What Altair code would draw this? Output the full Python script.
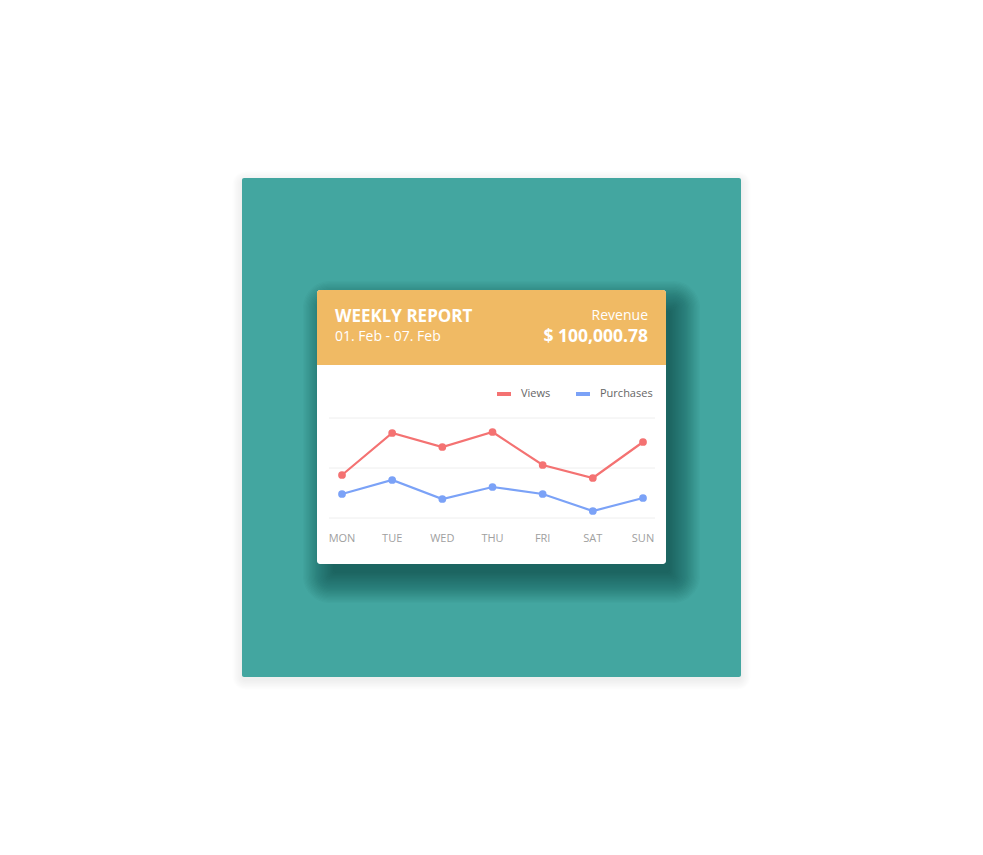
import altair as alt
import pandas as pd

# ---- data ----
days = ["MON", "TUE", "WED", "THU", "FRI", "SAT", "SUN"]
views = [43, 85, 71, 86, 53, 40, 76]
purchases = [24, 38, 19, 31, 24, 7, 20]
series_names = ["Views", "Purchases"]
series_colors = ["#F47272", "#7BA2F7"]
grid_ticks = [0, 50, 100]

title_text = "WEEKLY REPORT"
date_text = "01. Feb - 07. Feb"
revenue_label = "Revenue"
revenue_value = "$ 100,000.78"

rows = []
for i, d in enumerate(days):
    rows.append({"day": d, "idx": i, "series": "Views", "value": views[i]})
    rows.append({"day": d, "idx": i, "series": "Purchases", "value": purchases[i]})
df = pd.DataFrame(rows)
day_df = pd.DataFrame({"day": days})
grid_df = pd.DataFrame({"v": grid_ticks})

FONT = "Open Sans"
W, H = 983, 855
one = alt.Data(values=[{}])


def box(x, x2, y, y2, color, opacity=1.0, radius=0, **kw):
    return alt.Chart(one).mark_rect(
        color=color, opacity=opacity, cornerRadius=radius, **kw
    ).encode(
        x=alt.value(x), x2=alt.value(x2), y=alt.value(y), y2=alt.value(y2)
    )


def label(txt, x, y, size, weight="normal", align="left", color="white"):
    return alt.Chart(one).mark_text(
        text=txt, font=FONT, fontSize=size, fontWeight=weight, align=align,
        baseline="alphabetic", color=color
    ).encode(x=alt.value(x), y=alt.value(y))


layers = []

# teal panel soft shadow
for i in range(1, 9):
    e = i * 1.2
    layers.append(box(242 - e, 741 + e, 178 - e + 3, 677 + e + 3, "#000000", 0.009, 3 + e))
layers.append(box(242, 741, 178, 677, "#43A6A0", 1.0, 2))

# card shadow (offset down-right, blurred)
dx, dy, spread = 10, 15, -6
for i in range(0, 26):
    e = spread + i * 1.2
    layers.append(box(317 + dx - e, 666 + dx + e, 290 + dy - e, 564 + dy + e,
                      "#0b3532", 0.022, max(3, 3 + e)))

# card
layers.append(box(317, 666, 290, 564, "#FFFFFF", 1.0, 3))
layers.append(alt.Chart(one).mark_rect(
    color="#F0BA64", cornerRadiusTopLeft=3, cornerRadiusTopRight=3
).encode(x=alt.value(317), x2=alt.value(666), y=alt.value(290), y2=alt.value(365)))

# header texts
layers.append(label(title_text, 335, 322, 17, "bold"))
layers.append(label(date_text, 335, 341, 14))
layers.append(label(revenue_label, 648, 320, 14, align="right"))
layers.append(label(revenue_value, 648, 342, 17.5, "bold", align="right"))

# chart scales
xscale = alt.Scale(domain=days, range=[342, 643], padding=0)
yscale = alt.Scale(domain=[0, 100], range=[518, 418], nice=False, zero=False)
cscale = alt.Scale(domain=series_names, range=series_colors)

grid = alt.Chart(grid_df).mark_rule(color="#EEEEEE", strokeWidth=1).encode(
    y=alt.Y("v:Q", scale=yscale, axis=None),
    x=alt.value(329), x2=alt.value(655),
)
layers.append(grid)

lines = alt.Chart(df).mark_line(strokeWidth=2.2).encode(
    x=alt.X("day:N", scale=xscale, axis=None, sort=days),
    y=alt.Y("value:Q", scale=yscale, axis=None),
    color=alt.Color(
        "series:N", scale=cscale, sort=series_names,
        legend=alt.Legend(
            title=None, orient="none", legendX=495, legendY=385,
            direction="horizontal", symbolType="stroke", symbolSize=196,
            symbolStrokeWidth=4, labelFont=FONT, labelFontSize=11,
            labelColor="#666666", labelOffset=8, columnPadding=17,
            padding=0,
        ),
    ),
    order="idx:Q",
)
layers.append(lines)

points = alt.Chart(df).mark_circle(size=60, opacity=1).encode(
    x=alt.X("day:N", scale=xscale, axis=None, sort=days),
    y=alt.Y("value:Q", scale=yscale, axis=None),
    color=alt.Color("series:N", scale=cscale, legend=None),
)
layers.append(points)

xlabels = alt.Chart(day_df).mark_text(
    font=FONT, fontSize=11, color="#A0A0A0", baseline="alphabetic"
).encode(
    x=alt.X("day:N", scale=xscale, axis=None, sort=days),
    y=alt.value(542),
    text="day:N",
)
layers.append(xlabels)

chart = alt.layer(*layers).properties(
    width=W, height=H, padding=0, autosize=alt.AutoSizeParams(type="none"),
    background="white",
).configure_view(strokeWidth=0).resolve_scale(color="shared")

chart.save("out.html", embed_options={"renderer": "svg", "actions": False})
